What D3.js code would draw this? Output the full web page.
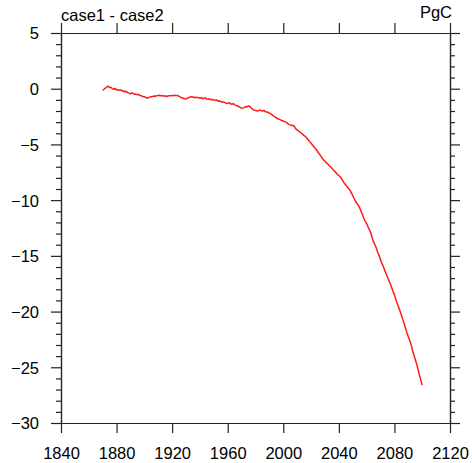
<!DOCTYPE html>
<html>
<head>
<meta charset="utf-8">
<script src="https://cdn.jsdelivr.net/npm/d3@7"></script>
<style>
  body { margin: 0; background: #fff; }
  svg { display: block; font-family: "Liberation Sans", Arial, Helvetica, sans-serif; }
  .axis path, .axis line { stroke: #222; stroke-width: 1.2; }
  .axis text { font-size: 16.5px; fill: #000; }
</style>
</head>
<body>
<svg class="chart"></svg>
<script>
// first year of the series, one value per year after that
var startYear = 1870;

// case1 - case2 difference, PgC (1870..2100)
var diffValues = [
  -0.15, -0.05, 0.05, 0.18, 0.22, 0.10, 0.12, 0.00, -0.05, 0.02,
  -0.12, -0.08, -0.15, -0.10, -0.20, -0.18, -0.30, -0.22, -0.35, -0.40,
  -0.45, -0.38, -0.42, -0.50, -0.48, -0.55, -0.52, -0.60, -0.65, -0.70,
  -0.72, -0.78, -0.85, -0.80, -0.75, -0.72, -0.70, -0.65, -0.68, -0.62,
  -0.60, -0.58, -0.65, -0.62, -0.66, -0.64, -0.70, -0.66, -0.62, -0.64,
  -0.60, -0.63, -0.58, -0.62, -0.60, -0.68, -0.75, -0.82, -0.85, -0.90,
  -0.92, -0.85, -0.80, -0.75, -0.72, -0.74, -0.80, -0.76, -0.78, -0.82,
  -0.85, -0.80, -0.90, -0.86, -0.82, -0.92, -0.95, -0.90, -1.00, -0.96,
  -1.00, -1.05, -1.00, -1.12, -1.08, -1.15, -1.20, -1.18, -1.25, -1.32,
  -1.30, -1.25, -1.35, -1.40, -1.32, -1.45, -1.50, -1.55, -1.60, -1.68,
  -1.75, -1.72, -1.68, -1.60, -1.62, -1.55, -1.60, -1.75, -1.85, -1.92,
  -1.95, -2.00, -1.98, -1.92, -1.95, -2.00, -1.95, -2.05, -2.10, -2.12,
  -2.20, -2.25, -2.35, -2.45, -2.55, -2.60, -2.70, -2.72, -2.80, -2.85,
  -2.90, -2.95, -3.00, -3.10, -3.20, -3.25, -3.30, -3.28, -3.40, -3.60,
  -3.70, -3.80, -3.88, -4.00, -4.10, -4.22, -4.30, -4.45, -4.60, -4.75,
  -4.90, -5.05, -5.20, -5.35, -5.50, -5.70, -5.85, -6.05, -6.20, -6.40,
  -6.50, -6.65, -6.75, -6.90, -7.00, -7.15, -7.30, -7.40, -7.55, -7.70,
  -7.80, -7.90, -8.10, -8.30, -8.50, -8.65, -8.80, -8.95, -9.10, -9.35,
  -9.60, -9.85, -10.10, -10.30, -10.45, -10.70, -11.00, -11.30, -11.65, -11.90,
  -12.10, -12.40, -12.65, -12.95, -13.40, -13.75, -14.00, -14.30, -14.70, -15.00,
  -15.35, -15.70, -15.95, -16.30, -16.60, -16.90, -17.20, -17.50, -17.85, -18.20,
  -18.50, -18.90, -19.25, -19.60, -19.95, -20.30, -20.70, -21.10, -21.50, -21.90,
  -22.25, -22.60, -22.95, -23.50, -23.90, -24.30, -24.70, -25.20, -25.70, -26.15,
  -26.60
];

var xTicks = [1840, 1880, 1920, 1960, 2000, 2040, 2080, 2120];
var yTicks = [-30, -25, -20, -15, -10, -5, 0, 5];
var yMinorTicks = [-29, -28, -27, -26, -24, -23, -22, -21, -19, -18, -17, -16,
                   -14, -13, -12, -11, -9, -8, -7, -6, -4, -3, -2, -1, 1, 2, 3, 4];

var leftTitle = 'case1 - case2';
var rightTitle = 'PgC';

var data = diffValues.map(function(v, i) {
	return {year: startYear + i, value: v};
});

var width = 472,
	height = 463;

var margin = {top: 33, right: 22, bottom: 40, left: 61},
	w = width - margin.left - margin.right,
	h = height - margin.top - margin.bottom;

var x = d3.scaleLinear().domain([1840, 2120]).range([0, w]),
	y = d3.scaleLinear().domain([-30, 5]).range([h, 0]);

var svg = d3.select('.chart')
	.attr('width', width)
	.attr('height', height);

var chart = svg.append('g')
	.attr('transform', 'translate(' + margin.left + ',' + margin.top + ')');

// minor ticks first so the major ones sit on top
chart.append('g')
	.attr('class', 'axis')
	.call(d3.axisLeft(y).tickValues(yMinorTicks).tickSize(5).tickSizeOuter(0).tickFormat(''));
chart.append('g')
	.attr('class', 'axis')
	.attr('transform', 'translate(' + w + ',0)')
	.call(d3.axisRight(y).tickValues(yMinorTicks).tickSize(5).tickSizeOuter(0).tickFormat(''));

// left axis with labels
var yAxisLeft = chart.append('g')
	.attr('class', 'axis')
	.call(d3.axisLeft(y).tickValues(yTicks).tickSize(10).tickSizeOuter(0).tickPadding(12));
yAxisLeft.selectAll('text').attr('dy', '0.36em');

// right axis, ticks only
chart.append('g')
	.attr('class', 'axis')
	.attr('transform', 'translate(' + w + ',0)')
	.call(d3.axisRight(y).tickValues(yTicks).tickSize(10).tickSizeOuter(0).tickFormat(''));

// bottom axis with labels
chart.append('g')
	.attr('class', 'axis')
	.attr('transform', 'translate(0,' + h + ')')
	.call(d3.axisBottom(x).tickValues(xTicks).tickSize(10).tickSizeOuter(0).tickPadding(14).tickFormat(d3.format('d')));

// top axis, ticks only
chart.append('g')
	.attr('class', 'axis')
	.call(d3.axisTop(x).tickValues(xTicks).tickSize(10).tickSizeOuter(0).tickFormat(''));

var line = d3.line()
	.x(function(d) { return x(d.year); })
	.y(function(d) { return y(d.value); });

chart.append('path')
	.datum(data)
	.attr('fill', 'none')
	.attr('stroke', '#ff1a1a')
	.attr('stroke-width', 1.5)
	.attr('stroke-linejoin', 'round')
	.attr('d', line);

// titles above the frame
svg.append('text')
	.attr('x', margin.left)
	.attr('y', 21)
	.style('font-size', '16.5px')
	.text(leftTitle);

svg.append('text')
	.attr('x', margin.left + w + 2)
	.attr('y', 18)
	.style('font-size', '16.5px')
	.style('text-anchor', 'end')
	.text(rightTitle);
</script>
</body>
</html>
